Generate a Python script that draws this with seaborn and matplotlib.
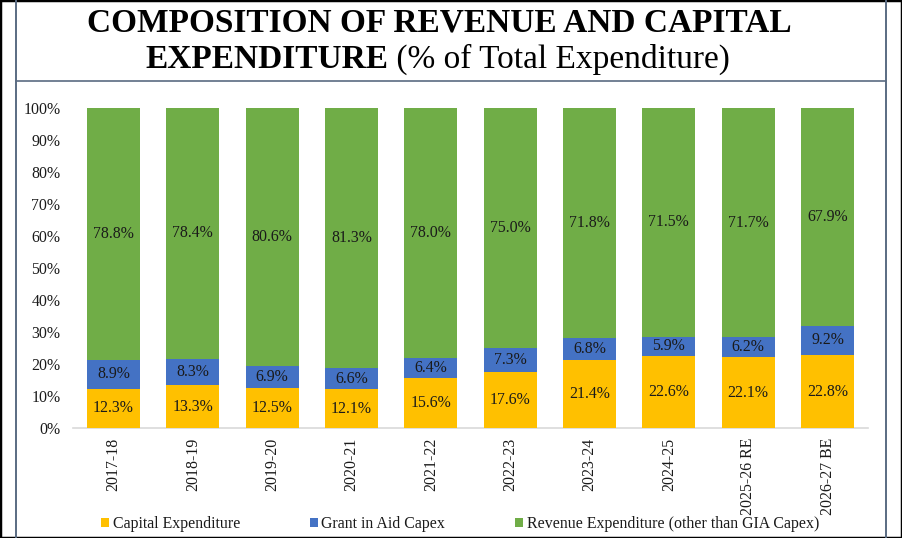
import matplotlib
matplotlib.use("Agg")
import matplotlib.pyplot as plt
from matplotlib.lines import Line2D
from matplotlib.patches import Rectangle
import seaborn as sns
import numpy as np
import pandas as pd

years = ["2017-18", "2018-19", "2019-20", "2020-21", "2021-22", "2022-23",
         "2023-24", "2024-25", "2025-26 RE", "2026-27 BE"]
capital = [12.3, 13.3, 12.5, 12.1, 15.6, 17.6, 21.4, 22.6, 22.1, 22.8]
gia_capex = [8.9, 8.3, 6.9, 6.6, 6.4, 7.3, 6.8, 5.9, 6.2, 9.2]
revenue = [78.8, 78.4, 80.6, 81.3, 78.0, 75.0, 71.8, 71.5, 71.7, 67.9]
series_names = ["Capital Expenditure", "Grant in Aid Capex",
                "Revenue Expenditure (other than GIA Capex)"]
y_ticks = [0, 10, 20, 30, 40, 50, 60, 70, 80, 90, 100]

colors = ["#FFC000", "#4472C4", "#70AD47"]
FONT = "Liberation Serif"

sns.set_theme(style="white")
plt.rcParams["font.family"] = [FONT, "DejaVu Serif"]

df = pd.DataFrame({"year": years, "cap": capital, "gia": gia_capex, "rev": revenue})
df["c1"] = df["cap"] / 100
df["c2"] = (df["cap"] + df["gia"]) / 100
df["c3"] = (df["cap"] + df["gia"] + df["rev"]) / 100

W, H = 902, 538
fig = plt.figure(figsize=(W / 100, H / 100), dpi=100)
ax = fig.add_axes([73 / W, (H - 428) / H, (868 - 73) / W, 320 / H])

bw = 0.67
sns.barplot(data=df, x="year", y="c3", color=colors[2], width=bw, ax=ax,
            saturation=1, zorder=1)
sns.barplot(data=df, x="year", y="c2", color=colors[1], width=bw, ax=ax,
            saturation=1, zorder=2)
sns.barplot(data=df, x="year", y="c1", color=colors[0], width=bw, ax=ax,
            saturation=1, zorder=3)
for p in ax.patches:
    p.set_edgecolor("none")

FS = 11.4
for i in range(len(years)):
    c, g, r = capital[i], gia_capex[i], revenue[i]
    kw = dict(ha="center", va="center", fontsize=FS, color="#1a1a1a", zorder=5,
              family=FONT)
    ax.text(i, c / 200, f"{c:.1f}%", **kw)
    ax.text(i, (c + g / 2) / 100, f"{g:.1f}%", **kw)
    ax.text(i, (c + g + r / 2) / 100, f"{r:.1f}%", **kw)

ax.set_xlim(-0.51, len(years) - 0.49)
ax.set_ylim(0, 1)
ax.set_yticks([t / 100 for t in y_ticks])
ax.set_yticklabels([f"{t}%" for t in y_ticks], fontsize=FS, color="#1a1a1a", family=FONT)
ax.set_xticks(range(len(years)))
ax.set_xticklabels(years, rotation=90, fontsize=FS, color="#1a1a1a", family=FONT)
ax.tick_params(axis="y", length=0, pad=9)
ax.tick_params(axis="x", length=0, pad=7)
ax.set_xlabel("")
ax.set_ylabel("")
for s in ["top", "right", "left"]:
    ax.spines[s].set_visible(False)
ax.spines["bottom"].set_color("#D9D9D9")
ax.spines["bottom"].set_linewidth(1.2)
ax.grid(False)

# Legend
handles = [Rectangle((0, 0), 1, 1, facecolor=c, edgecolor="none") for c in colors]
fig.legend(handles, series_names, loc="center", ncol=3,
           bbox_to_anchor=(460 / W, (H - 524) / H), frameon=False,
           prop={"family": FONT, "size": FS}, handlelength=0.5, handleheight=0.5,
           handletextpad=0.25, columnspacing=4.4, labelcolor="#1a1a1a")

# Title
fig.text(439 / W, 1 - 23 / H, "COMPOSITION OF REVENUE AND CAPITAL", ha="center",
         va="center", fontsize=24, fontweight="bold", family=FONT, color="black")
split = 388 / W
fig.text(split, 1 - 59 / H, "EXPENDITURE", ha="right", va="center", fontsize=24,
         fontweight="bold", family=FONT, color="black")
fig.text(split, 1 - 59 / H, " (% of Total Expenditure)", ha="left", va="center",
         fontsize=24, family=FONT, color="black")

# Frame lines
lc = "#5A6B82"
fig.add_artist(Line2D([16 / W, 16 / W], [0, 1], color=lc, lw=1.4, transform=fig.transFigure))
fig.add_artist(Line2D([886 / W, 886 / W], [0, 1], color=lc, lw=1.4, transform=fig.transFigure))
fig.add_artist(Line2D([16 / W, 886 / W], [1 - 81 / H, 1 - 81 / H], color=lc, lw=1.2,
                      transform=fig.transFigure))
fig.add_artist(Rectangle((0, 0), 1, 1, fill=False, edgecolor="black", lw=2.5,
                         transform=fig.transFigure))

fig.savefig("out.png", dpi=100)
